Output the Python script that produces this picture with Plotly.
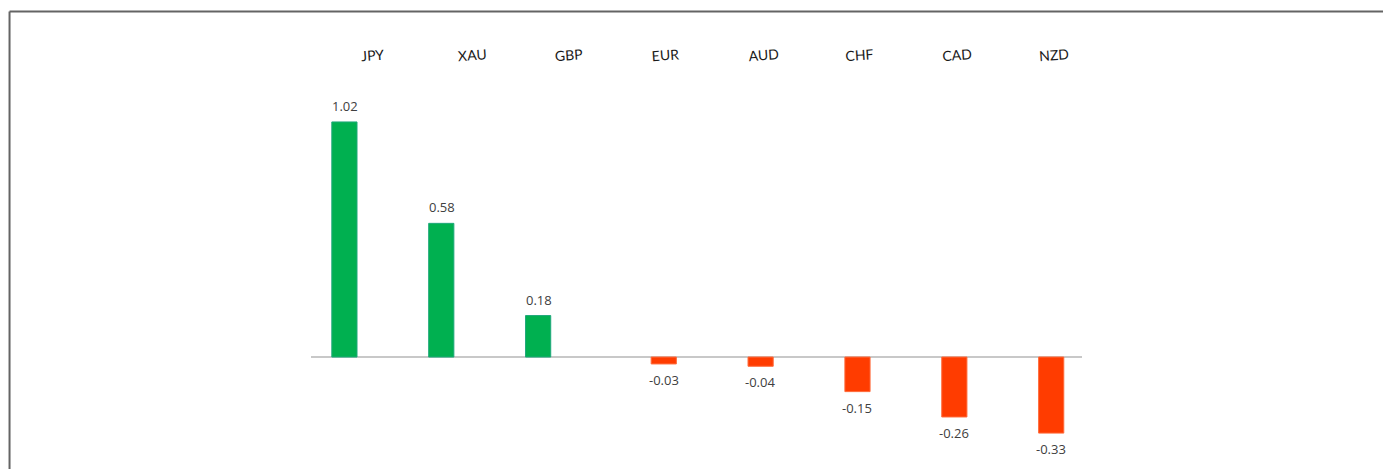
import plotly.graph_objects as go

currencies = ["JPY", "XAU", "GBP", "EUR", "AUD", "CHF", "CAD", "NZD"]
changes = [1.02, 0.58, 0.18, -0.03, -0.04, -0.15, -0.26, -0.33]

pos_vals = [v if v > 0 else None for v in changes]
neg_vals = [v if v < 0 else None for v in changes]

GREEN = "#00B050"
RED = "#FF3C00"
LABEL_FONT = dict(family="Open Sans", size=13, color="#404040")

fig = go.Figure()
fig.add_trace(go.Bar(
    x=currencies, y=pos_vals, marker=dict(color=GREEN, line=dict(width=1, color="#1FA87A")),
    width=0.26, offset=-0.415, showlegend=False, hoverinfo="x+y",
))
fig.add_trace(go.Bar(
    x=currencies, y=neg_vals, marker=dict(color=RED, line=dict(width=1, color="#FF6A3A")),
    width=0.26, offset=-0.118, showlegend=False, hoverinfo="x+y",
))

annotations = []
for c, v in zip(currencies, changes):
    if v > 0:
        annotations.append(dict(x=c, y=v, text=f"{v:.2f}", showarrow=False, xshift=-27,
                                yanchor="bottom", yshift=5, font=LABEL_FONT))
    else:
        annotations.append(dict(x=c, y=v, text=f"{v:.2f}", showarrow=False, xshift=1,
                                yanchor="top", yshift=-5, font=LABEL_FONT))

fig.update_layout(
    width=1383, height=469,
    margin=dict(l=311, r=301, t=68, b=14),
    paper_bgcolor="white", plot_bgcolor="white",
    barmode="overlay",
    annotations=annotations,
    xaxis=dict(
        side="top", type="category", range=[-0.63, 7.33],
        showgrid=False, showline=False, zeroline=False, ticks="",
        tickangle=-4, ticklabelshift=-11, ticklabelstandoff=3,
        tickfont=dict(family="Lato", size=14, color="#1a1a1a"),
    ),
    yaxis=dict(
        range=[-0.425, 1.254], showgrid=False, showticklabels=False, ticks="",
        showline=False, zeroline=True, zerolinecolor="#c8c8c8", zerolinewidth=2,
    ),
    shapes=[
        dict(type="line", xref="paper", yref="paper", x0=-0.391, x1=1.42,
             y0=1.146, y1=1.146, line=dict(color="#646464", width=2)),
        dict(type="line", xref="paper", yref="paper", x0=-0.391, x1=-0.391,
             y0=1.146, y1=-0.08, line=dict(color="#646464", width=2)),
    ],
)

fig.write_html("out.html")
